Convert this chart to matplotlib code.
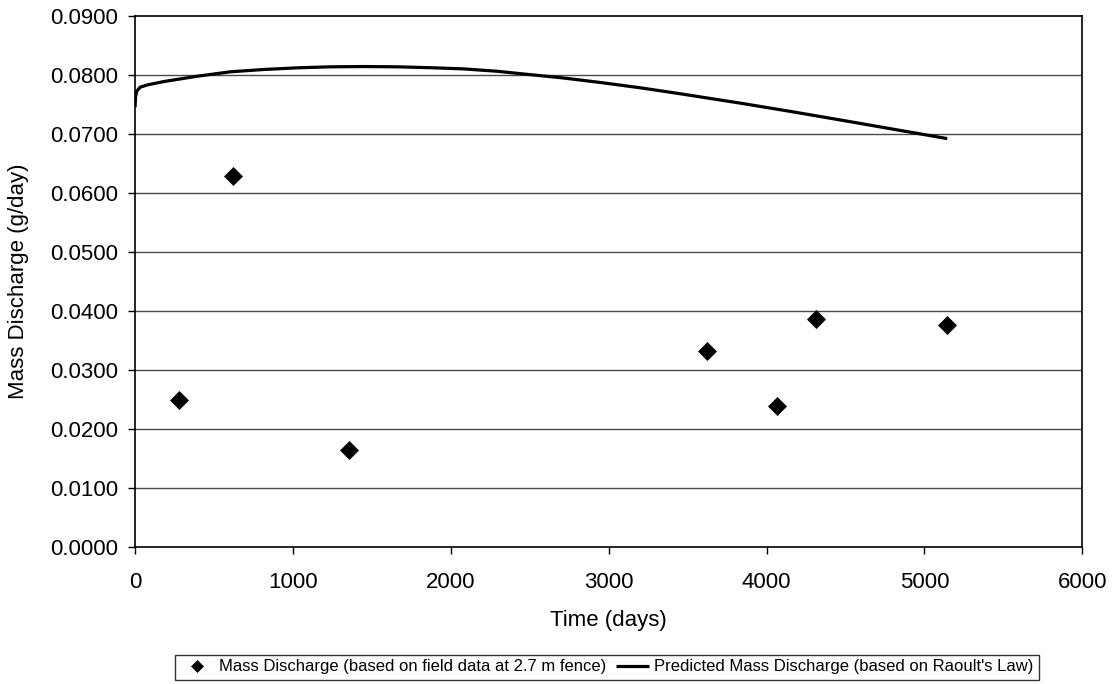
import matplotlib
matplotlib.use("Agg")
import matplotlib.pyplot as plt
from matplotlib.ticker import FixedLocator, FormatStrFormatter

plt.rcParams['font.family'] = ['Liberation Sans', 'DejaVu Sans']

# Field data (diamonds)
field_days = [277, 623, 1355, 3623, 4067, 4316, 5144]
field_discharge = [0.0250, 0.0629, 0.0164, 0.0333, 0.0239, 0.0387, 0.0376]

# Predicted (Raoult's Law) curve
pred_days = [0, 3, 10, 32, 80, 183, 394, 605, 816, 1027, 1238, 1449, 1660,
             1871, 2082, 2293, 2438, 2700, 2947, 3200, 3451, 3834, 4151,
             4500, 4800, 5144]
pred_discharge = [0.0745, 0.0762, 0.0772, 0.0779, 0.0783, 0.07886, 0.07976,
                  0.08051, 0.0809, 0.08118, 0.08135, 0.0814, 0.08135, 0.0812,
                  0.0810, 0.0806, 0.0802, 0.0795, 0.0787, 0.0778, 0.0768,
                  0.0752, 0.0738, 0.0722, 0.0708, 0.0692]

x_ticks = [0, 1000, 2000, 3000, 4000, 5000, 6000]
y_ticks = [0.0, 0.01, 0.02, 0.03, 0.04, 0.05, 0.06, 0.07, 0.08, 0.09]

fig = plt.figure(figsize=(11.17, 6.84), dpi=100)
ax = fig.add_axes([0.1209, 0.1998, 0.969 - 0.1209, 0.977 - 0.1998])

for yv in y_ticks[1:-1]:
    ax.axhline(yv, color='#4a4a4a', lw=1.0, zorder=1)

ax.plot(field_days, field_discharge, linestyle='none', marker='D', ms=9,
        color='black', markeredgewidth=0.5, zorder=3,
        label='Mass Discharge (based on field data at 2.7 m fence)')
ax.plot(pred_days, pred_discharge, color='black', lw=2.3, zorder=2,
        solid_joinstyle='round', solid_capstyle='butt',
        label="Predicted Mass Discharge (based on Raoult's Law)")

ax.set_xlim(0, 6000)
ax.set_ylim(0, 0.09)
ax.xaxis.set_major_locator(FixedLocator(x_ticks))
ax.yaxis.set_major_locator(FixedLocator(y_ticks))
ax.yaxis.set_major_formatter(FormatStrFormatter('%.4f'))
ax.tick_params(axis='both', direction='out', length=5, width=1, labelsize=16,
               colors='black')
ax.tick_params(axis='y', pad=7)
ax.tick_params(axis='x', pad=13)
for s in ax.spines.values():
    s.set_linewidth(1.2)
    s.set_color('black')

ax.set_xlabel('Time (days)', fontsize=16)
ax.set_ylabel('Mass Discharge (g/day)', fontsize=16)
ax.xaxis.set_label_coords(0.5, (547.3 - 610) / 531.6)
ax.yaxis.set_label_coords((29 - 135) / 947.3, 0.5)

leg = fig.legend(loc='center', bbox_to_anchor=(607 / 1117, 1 - 667 / 684),
                 ncol=2, fontsize=12, frameon=True, fancybox=False,
                 edgecolor='black', handlelength=2.0, handletextpad=0.3,
                 columnspacing=0.6, borderpad=0.3, borderaxespad=0,
                 markerscale=0.65)
leg.get_frame().set_linewidth(1.0)

fig.savefig('out.png', dpi=100)
